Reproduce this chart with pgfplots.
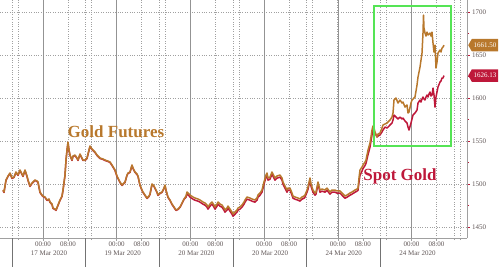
\documentclass[border=0pt]{standalone}
\usepackage{pgfplots}
\pgfplotsset{compat=1.18}
\usepackage{pgfplotstable}
\usepackage{fontspec}
\setmainfont{Liberation Serif}
\usetikzlibrary{shapes.symbols}
\definecolor{fut}{RGB}{184,120,44}
\definecolor{spot}{RGB}{190,24,58}
\definecolor{boxg}{RGB}{85,228,85}
\definecolor{gridc}{RGB}{160,160,160}
\definecolor{labc}{RGB}{95,85,85}

\pgfplotstableread{
x fut spot
3 1493.0 1492.5
4 1490.7 1490.2
6 1504.7 1504.2
8 1509.3 1508.8
10 1512.8 1512.3
12 1507.0 1506.5
14 1508.1 1507.6
16 1514.0 1513.5
18 1510.5 1510.0
20 1516.3 1515.8
22 1511.6 1511.1
23 1509.3 1508.8
25 1516.3 1515.8
27 1509.3 1508.8
28 1504.7 1504.2
30 1497.7 1497.2
32 1501.2 1500.7
33 1502.3 1501.8
35 1504.7 1504.2
37 1503.5 1503.0
38 1502.3 1501.8
40 1490.7 1490.2
42 1487.2 1486.7
43 1486.0 1485.5
45 1484.9 1484.4
47 1481.4 1480.9
49 1482.6 1482.1
50 1479.1 1478.6
52 1476.7 1476.2
53 1472.1 1471.6
55 1470.9 1470.4
56 1469.8 1469.3
58 1475.6 1475.1
60 1481.4 1480.9
62 1486.0 1485.5
63 1493.0 1492.5
65 1510.5 1510.0
66 1527.9 1527.4
67 1539.5 1539.0
68 1548.8 1548.3
69 1539.5 1539.0
70 1533.7 1533.2
72 1527.9 1527.4
73 1532.6 1532.1
75 1533.7 1533.2
77 1530.2 1529.7
78 1527.9 1527.4
80 1534.9 1534.4
82 1530.2 1529.7
83 1527.9 1527.4
85 1527.9 1527.4
87 1530.2 1529.7
89 1539.5 1539.0
90 1544.2 1543.7
92 1540.7 1540.2
93 1539.5 1539.0
95 1537.2 1536.7
97 1533.7 1533.2
99 1531.4 1530.9
100 1530.2 1529.7
103 1529.1 1528.6
105 1527.9 1527.4
108 1526.7 1526.2
110 1525.6 1525.1
112 1522.1 1521.6
115 1516.3 1515.8
117 1509.3 1508.8
118 1507.0 1506.5
120 1502.3 1501.8
122 1498.8 1498.3
124 1501.2 1500.7
125 1502.3 1501.8
127 1510.5 1510.0
128 1512.8 1512.3
130 1514.0 1513.5
132 1522.1 1521.6
133 1518.6 1518.1
135 1514.0 1513.5
137 1511.6 1511.1
138 1509.3 1508.8
140 1498.8 1498.3
142 1493.0 1492.5
143 1490.7 1490.2
145 1487.2 1486.7
147 1483.7 1483.2
149 1486.0 1485.5
150 1488.4 1487.9
152 1500.0 1499.5
154 1497.7 1497.2
155 1495.3 1494.8
157 1490.7 1490.2
158 1487.2 1486.7
160 1489.5 1489.0
162 1490.7 1490.2
164 1495.3 1494.8
165 1498.8 1498.3
166 1493.0 1492.5
168 1484.9 1484.4
170 1481.4 1480.9
172 1476.7 1476.2
174 1473.3 1472.8
176 1469.8 1469.3
178 1470.9 1470.4
180 1473.3 1472.8
182 1477.9 1477.4
184 1482.6 1482.1
186 1486.0 1484.5
187 1490.7 1488.7
189 1488.4 1486.4
190 1487.2 1484.7
193 1484.9 1482.4
195 1483.7 1481.2
198 1482.6 1480.1
200 1481.4 1478.9
203 1479.1 1476.6
205 1477.9 1475.4
207 1475.6 1473.1
208 1473.3 1470.8
210 1476.7 1474.2
212 1479.1 1476.6
214 1475.6 1473.1
215 1473.3 1470.8
217 1476.7 1474.2
218 1479.1 1476.6
220 1476.7 1474.2
222 1475.6 1473.1
224 1472.1 1469.6
225 1469.8 1467.3
227 1472.1 1469.6
228 1474.4 1471.9
230 1470.9 1468.4
232 1467.4 1464.9
233 1465.1 1462.6
235 1467.4 1464.9
237 1469.8 1467.3
238 1472.1 1469.6
240 1473.3 1470.8
242 1475.6 1473.1
244 1479.1 1476.6
245 1481.4 1478.9
247 1484.9 1482.4
250 1483.7 1481.2
252 1482.6 1480.1
255 1481.4 1478.9
257 1483.7 1481.2
258 1487.2 1484.7
260 1489.5 1487.0
262 1493.0 1490.5
264 1502.3 1499.8
266 1510.5 1508.0
267 1512.8 1510.3
268 1507.0 1504.5
270 1508.1 1505.6
272 1514.0 1511.5
274 1509.3 1506.8
275 1507.0 1504.5
277 1509.3 1506.8
280 1510.5 1508.0
282 1507.0 1504.5
283 1502.3 1499.8
285 1497.7 1495.2
287 1493.0 1490.5
288 1495.3 1492.8
290 1495.3 1492.8
292 1489.5 1487.0
293 1486.0 1483.5
295 1484.9 1482.4
298 1483.7 1481.2
300 1482.6 1480.1
302 1484.9 1482.4
304 1486.0 1483.5
305 1487.2 1484.7
307 1493.0 1490.5
308 1496.5 1494.0
310 1507.0 1504.5
311 1500.0 1497.5
313 1493.0 1490.5
315 1489.5 1487.0
316 1490.7 1488.2
318 1502.3 1499.8
319 1497.7 1495.2
320 1493.0 1490.5
322 1494.2 1491.7
325 1493.0 1490.5
327 1495.3 1492.8
330 1490.7 1488.2
332 1493.0 1490.5
335 1493.0 1490.5
337 1491.9 1489.4
340 1491.9 1489.4
342 1489.5 1487.0
345 1486.0 1483.5
347 1487.2 1484.7
350 1489.5 1487.0
352 1490.7 1488.2
355 1493.0 1490.5
357 1494.2 1491.7
358 1495.3 1492.8
359 1507.0 1502.0
360 1516.3 1510.0
362 1519.8 1515.0
363 1522.1 1518.0
365 1525.6 1521.5
366 1527.9 1524.0
368 1539.5 1534.0
370 1547.7 1543.0
371 1554.7 1550.0
372 1562.8 1557.0
373 1567.4 1562.8
374 1565.1 1561.6
375 1560.5 1559.3
377 1554.7 1554.7
378 1558.1 1555.8
380 1559.3 1557.0
382 1565.1 1560.5
383 1568.6 1562.8
385 1569.8 1566.3
387 1570.9 1565.1
389 1573.3 1567.4
390 1574.4 1568.6
392 1577.9 1570.9
393 1582.6 1574.4
394 1597.7 1580.2
396 1600.0 1577.9
398 1594.2 1575.6
400 1597.7 1577.9
402 1594.2 1575.6
403 1595.3 1576.7
405 1589.5 1573.3
407 1591.9 1570.9
408 1582.6 1566.3
409 1583.7 1562.8
411 1594.2 1570.9
412 1597.7 1575.6
413 1598.8 1580.2
415 1601.2 1582.6
417 1615.1 1586.0
418 1624.4 1594.2
420 1636.0 1597.7
421 1644.2 1595.3
422 1652.3 1598.8
423 1675.6 1601.2
423.5 1696.5 1600.0
424 1681.4 1598.8
425 1675.6 1597.7
426 1672.1 1601.2
427 1676.7 1603.5
428 1673.3 1601.2
429 1674.4 1604.7
430 1675.6 1607.0
431 1672.1 1602.3
432 1676.7 1603.5
433 1664.0 1611.6
434 1653.5 1603.5
435 1661.6 1589.5
436 1634.9 1601.2
437 1641.9 1607.0
438 1652.3 1612.8
440 1655.8 1618.6
441 1653.5 1619.8
442 1658.1 1623.3
443 1659.3 1623.3
444 1661.5 1626.13
}\gold

\begin{document}
\begin{tikzpicture}
\begin{axis}[
  name=ax, at={(0,0)}, anchor=south west,
  scale only axis, width=467pt, height=238pt,
  xmin=0, xmax=467, ymin=1437.2, ymax=1714,
  clip=false,
  axis x line*=bottom, axis y line*=right,
  axis line style={gridc, line width=0.6pt},
  ytick={1450,1500,...,1700},
  minor ytick={1475,1525,...,1675},
  yticklabel pos=right,
  ytick style={spot, line width=0.6pt},
  ymajorgrids,
  major grid style={gridc, dotted, line width=0.7pt},
  minor grid style={gridc, dotted, line width=0.7pt},
  yticklabel style={font=\fontsize{7}{8}\selectfont, text=labc, xshift=-1pt},
  /pgf/number format/assume math mode=true,
  yticklabel={\pgfmathprintnumber[fixed,precision=0,1000 sep={}]{\tick}},
  tick align=outside,
  major tick length=2.5pt, minor tick length=2pt,
  xtick={43,68,116.7,141.7,190.4,215.4,264.1,289.1,337.8,362.8,411.5,436.5},
  xticklabels={00:00,08:00,00:00,08:00,00:00,08:00,00:00,08:00,00:00,08:00,00:00,08:00},
  minor xtick={12,18,85.7,91.7,159.4,165.4,233.1,239.1,306.8,312.8,380.5,386.5,454.2,460.2},
  xminorgrids, xmajorgrids,
  xtick style={gridc, line width=0.5pt},
  xticklabel style={font=\fontsize{7}{8}\selectfont, text=labc, inner sep=1pt},
]
% solid 00:00 lines
\pgfplotsinvokeforeach{43,116.7,190.4,264.1,337.8,411.5}{
  \draw[gray!85, line width=0.6pt] (axis cs:#1,1437.2) -- (axis cs:#1,1714);
}
% date separators below axis
\pgfplotsinvokeforeach{12,85.7,159.4,233.1,306.8,380.5}{
  \draw[gray!90!black, line width=0.7pt] (axis cs:#1,1437.2) -- ++(0,-24pt);
}
% date labels
\node[font=\fontsize{7}{8}\selectfont, text=labc, anchor=center] at ([yshift=-15pt]axis cs:49,1437.2) {17 Mar 2020};
\node[font=\fontsize{7}{8}\selectfont, text=labc, anchor=center] at ([yshift=-15pt]axis cs:122.7,1437.2) {19 Mar 2020};
\node[font=\fontsize{7}{8}\selectfont, text=labc, anchor=center] at ([yshift=-15pt]axis cs:196.4,1437.2) {20 Mar 2020};
\node[font=\fontsize{7}{8}\selectfont, text=labc, anchor=center] at ([yshift=-15pt]axis cs:270.1,1437.2) {20 Mar 2020};
\node[font=\fontsize{7}{8}\selectfont, text=labc, anchor=center] at ([yshift=-15pt]axis cs:343.8,1437.2) {24 Mar 2020};
\node[font=\fontsize{7}{8}\selectfont, text=labc, anchor=center] at ([yshift=-15pt]axis cs:417.5,1437.2) {24 Mar 2020};

\addplot[spot, line width=1.5pt, line join=round] table[x=x, y=spot] {\gold};
\addplot[fut, line width=1.5pt, line join=round] table[x=x, y=fut] {\gold};

\draw[boxg, line width=1.8pt] (axis cs:374,1707) rectangle (axis cs:451,1544.2);

\node[font=\fontsize{17}{17}\selectfont\bfseries, text=fut] at (axis cs:116,1560.5) {Gold Futures};
\node[font=\fontsize{17}{17}\selectfont\bfseries, text=spot] at (axis cs:400,1509.3) {Spot Gold};

\node[shape=signal, signal to=west, signal pointer angle=120, fill=fut, text=white,
  inner xsep=1.8pt, inner ysep=1pt, minimum height=12.5pt,
  font=\fontsize{7}{8}\selectfont, anchor=west] at (axis cs:468,1661.5) {1661.50};
\node[shape=signal, signal to=west, signal pointer angle=120, fill=spot, text=white,
  inner xsep=1.8pt, inner ysep=1pt, minimum height=12.5pt,
  font=\fontsize{7}{8}\selectfont, anchor=west] at (axis cs:468,1626.13) {1626.13};
\end{axis}
\pgfresetboundingbox
\path[use as bounding box] (0,-28pt) rectangle (503pt,238pt);
\end{tikzpicture}
\end{document}
